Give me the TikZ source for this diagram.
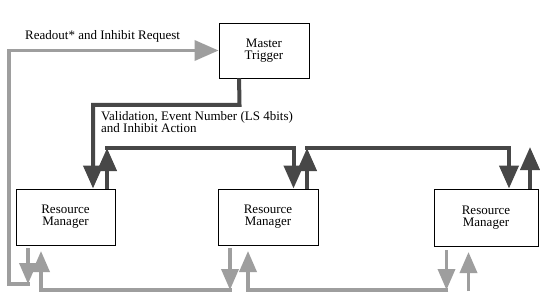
\documentclass[tikz,border=0pt]{standalone}
\usepackage{fontspec}
\setmainfont{Liberation Serif}
\usetikzlibrary{arrows.meta,calc}
\begin{document}
\begin{tikzpicture}[x=1pt,y=-1pt,
  lbl/.style={font=\fontsize{13}{12}\selectfont, inner sep=0pt},
  box/.style={draw=black, line width=0.9pt, fill=white, align=center, inner sep=0pt, font=\fontsize{13}{12}\selectfont},
  dark/.style={line width=4pt, draw=black!72},
  light/.style={line width=3.5pt, draw=black!38},
  dtip/.style={-{Triangle[length=23pt,width=19pt]}},
  ltip/.style={-{Triangle[length=21pt,width=17pt]}},
  rtip/.style={-{Triangle[length=24pt,width=20pt]}}]
\fill[white] (0,0) rectangle (540,294);
\useasboundingbox (0,0) rectangle (540,294);
% boxes
\node[box, minimum width=90pt, minimum height=55pt] (MT) at (264,50.5) {Master\\Trigger};
\node[box, minimum width=99pt, minimum height=56pt] (RM1) at (65.5,217) {Resource\\Manager};
\node[box, minimum width=100pt, minimum height=56pt] (RM2) at (268,217) {Resource\\Manager};
\node[box, minimum width=104pt, minimum height=57pt] (RM3) at (486,217.5) {Resource\\Manager};
% labels
\node[lbl, anchor=base west] (rl) at (25,40) {Readout* and Inhibit Request};
\node[lbl, anchor=north west, align=left] (vl) at (101,111) {Validation, Event Number (LS 4bits)\\and Inhibit Action};
% dark connectors (validation chain)
\coordinate (mtout) at ($(MT.south west)+(20.5,0)$);
\coordinate (d1) at (239.5,105);
\coordinate (d2) at (93,105);
\draw[dark,dtip] (mtout) -- (d1) -- (d2) -- (d2 |- RM1.north);
\coordinate (u1) at (107,148);
\coordinate (u2) at (293.5,148);
\draw[dark,dtip] (u1 |- RM1.north) -- (u1);
\draw[dark,dtip] ([xshift=-2pt]u1) -- (u2) -- (u2 |- RM2.north);
\coordinate (v1) at (307,148);
\coordinate (v2) at (509,148);
\draw[dark,dtip] (v1 |- RM2.north) -- (v1);
\draw[dark,dtip] ([xshift=-2pt]v1) -- (v2) -- (v2 |- RM3.north);
\coordinate (w1) at (530,147);
\draw[dark,dtip] (w1 |- RM3.north) -- (w1);
% light connectors (readout chain)
\coordinate (p1) at (28,284);
\coordinate (q1) at (9,284);
\coordinate (q2) at (9,50.5);
\draw[light,ltip] ($(p1 |- RM1.south)+(0,3)$) -- (p1);
\draw[light,rtip] ([xshift=1.75pt]p1) -- (q1) -- (q2) -- (q2 -| MT.west);
\coordinate (p2) at (230,290);
\coordinate (t1) at (41,251);
\draw[light,ltip] ($(p2 |- RM2.south)+(0,3)$) -- (p2);
\draw[light,ltip] ([xshift=1.75pt]p2) -- (p2 -| t1) -- (t1);
\coordinate (p3) at (446.5,290);
\coordinate (t2) at (248,251);
\draw[light,ltip] ($(p3 |- RM3.south)+(0,4)$) -- (p3);
\draw[light,ltip] ([xshift=1.75pt]p3) -- (p3 -| t2) -- (t2);
\coordinate (f3) at (468.5,291);
\coordinate (t3) at (468.5,252);
\draw[light,ltip] (f3) -- (t3);
\end{tikzpicture}
\end{document}
